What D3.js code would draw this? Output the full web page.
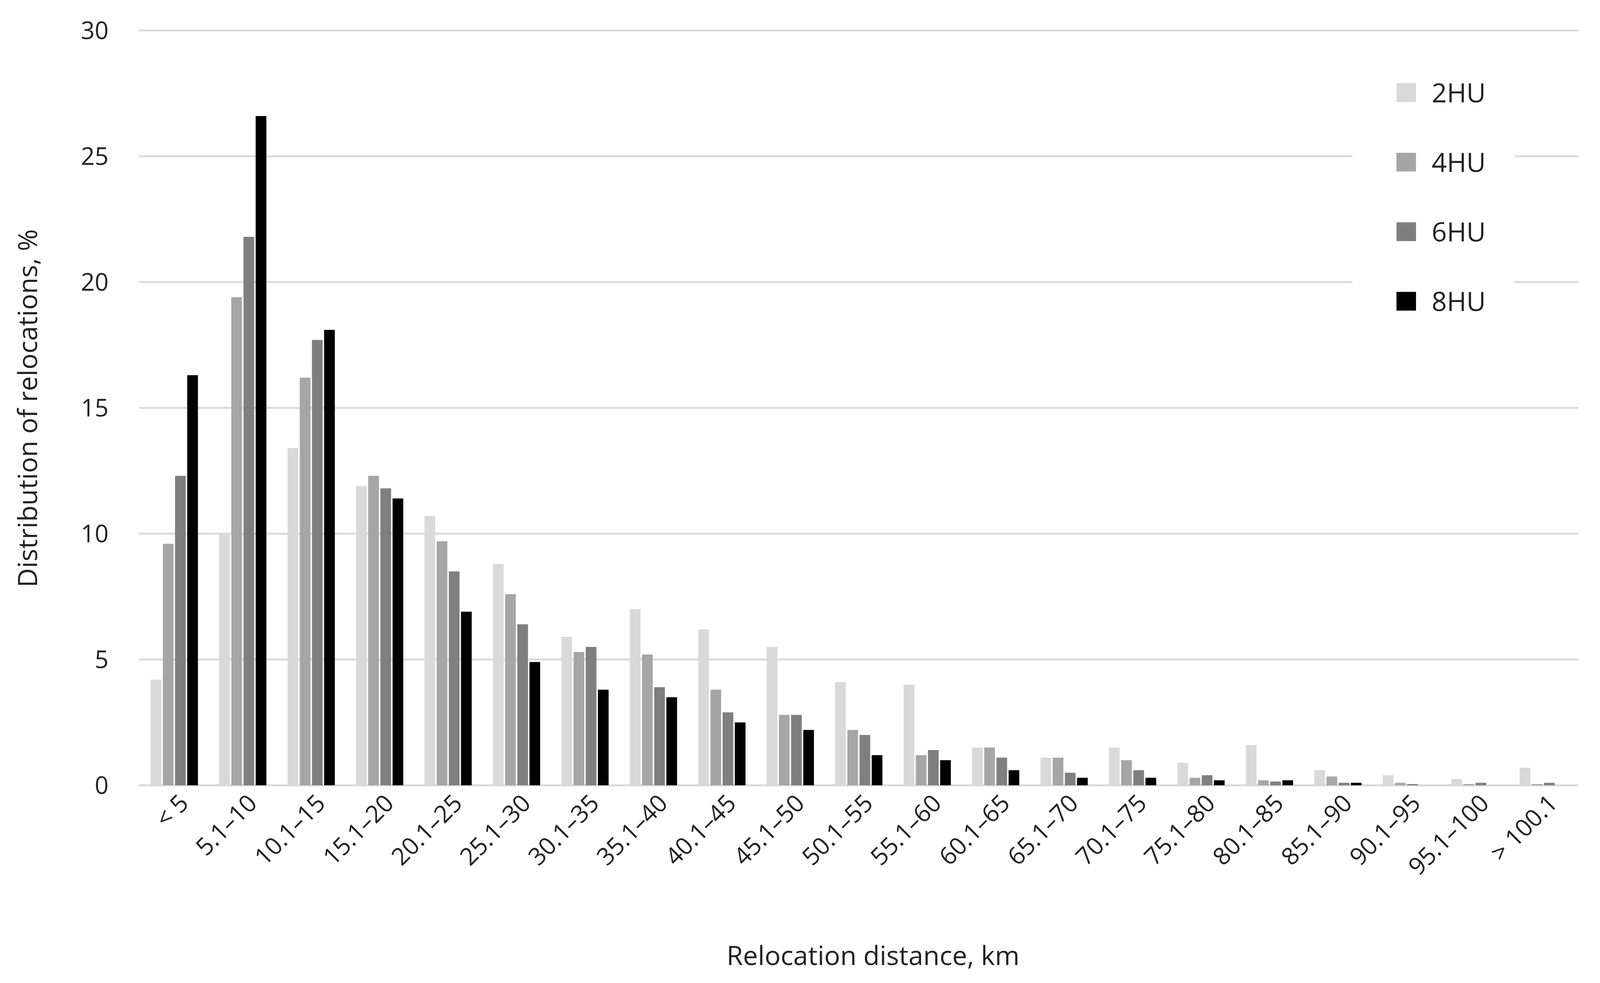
<!DOCTYPE html>
<html>
<head>
<meta charset="utf-8">
<script src="https://cdn.jsdelivr.net/npm/d3@7"></script>
<style>
  body { margin: 0; background: #fff; }
  text { font-family: "Open Sans", sans-serif; fill: #222; }
</style>
</head>
<body>
<script>
const categories = ["< 5", "5.1–10", "10.1–15", "15.1–20", "20.1–25", "25.1–30", "30.1–35",
  "35.1–40", "40.1–45", "45.1–50", "50.1–55", "55.1–60", "60.1–65", "65.1–70", "70.1–75",
  "75.1–80", "80.1–85", "85.1–90", "90.1–95", "95.1–100", "> 100.1"];
const seriesNames = ["2HU", "4HU", "6HU", "8HU"];
const hu2 = [4.2, 10.0, 13.4, 11.9, 10.7, 8.8, 5.9, 7.0, 6.2, 5.5, 4.1, 4.0, 1.5, 1.1, 1.5, 0.9, 1.6, 0.6, 0.4, 0.25, 0.7];
const hu4 = [9.6, 19.4, 16.2, 12.3, 9.7, 7.6, 5.3, 5.2, 3.8, 2.8, 2.2, 1.2, 1.5, 1.1, 1.0, 0.3, 0.2, 0.35, 0.1, 0.05, 0.05];
const hu6 = [12.3, 21.8, 17.7, 11.8, 8.5, 6.4, 5.5, 3.9, 2.9, 2.8, 2.0, 1.4, 1.1, 0.5, 0.6, 0.4, 0.15, 0.1, 0.05, 0.1, 0.1];
const hu8 = [16.3, 26.6, 18.1, 11.4, 6.9, 4.9, 3.8, 3.5, 2.5, 2.2, 1.2, 1.0, 0.6, 0.3, 0.3, 0.2, 0.2, 0.1, 0, 0, 0];
const colors = ["#d9d9d9", "#a6a6a6", "#7f7f7f", "#000000"];
const yTicks = [0, 5, 10, 15, 20, 25, 30];

const W = 4148, H = 2516;
const mLeft = 356, mRight = 4041, mTop = 78, mBottom = 2010;
const series = [hu2, hu4, hu6, hu8];

const svg = d3.select("body").append("svg").attr("width", W).attr("height", H);

const x = d3.scaleBand().domain(categories).range([mLeft, mRight]).paddingInner(0.31).paddingOuter(0.17);
const xs = d3.scaleBand().domain(d3.range(4)).range([0, x.bandwidth()]).paddingInner(0.12);
const y = d3.scaleLinear().domain([0, 30]).range([mBottom, mTop]);

// gridlines
svg.append("g").selectAll("line").data(yTicks).join("line")
    .attr("x1", mLeft).attr("x2", mRight)
    .attr("y1", d => y(d)).attr("y2", d => y(d))
    .attr("stroke", "#d9d9d9").attr("stroke-width", 5);

// y tick labels
svg.append("g").selectAll("text").data(yTicks).join("text")
    .attr("x", 278).attr("y", d => y(d)).attr("dy", "0.35em")
    .attr("text-anchor", "end").attr("font-size", 62).text(d => d);

// bars
const g = svg.append("g");
categories.forEach((c, i) => {
  series.forEach((s, k) => {
    g.append("rect")
        .attr("x", x(c) + xs(k)).attr("width", xs.bandwidth())
        .attr("y", y(s[i])).attr("height", y(0) - y(s[i]))
        .attr("fill", colors[k]);
  });
});

// x labels
svg.append("g").selectAll("text").data(categories).join("text")
    .attr("text-anchor", "end").attr("font-size", 62)
    .attr("transform", d => `translate(${x(d) + x.bandwidth() / 2 + 40},${mBottom + 50}) rotate(-45)`)
    .text(d => d);

// axis titles
svg.append("text").attr("x", 2235).attr("y", 2470).attr("text-anchor", "middle")
    .attr("font-size", 68).text("Relocation distance, km");
svg.append("text").attr("transform", "translate(95,1045) rotate(-90)")
    .attr("text-anchor", "middle").attr("font-size", 68).text("Distribution of relocations, %");

// legend
svg.append("rect").attr("x", 3462).attr("y", 120).attr("width", 416).attr("height", 720).attr("fill", "#fff");
const lg = svg.append("g").selectAll("g").data(seriesNames).join("g")
    .attr("transform", (d, i) => `translate(3575,${238 + i * 178})`);
lg.append("rect").attr("x", 0).attr("y", -25).attr("width", 50).attr("height", 48).attr("fill", (d, i) => colors[i]);
lg.append("text").attr("x", 90).attr("dy", "0.35em").attr("font-size", 68).text(d => d);
</script>
</body>
</html>
